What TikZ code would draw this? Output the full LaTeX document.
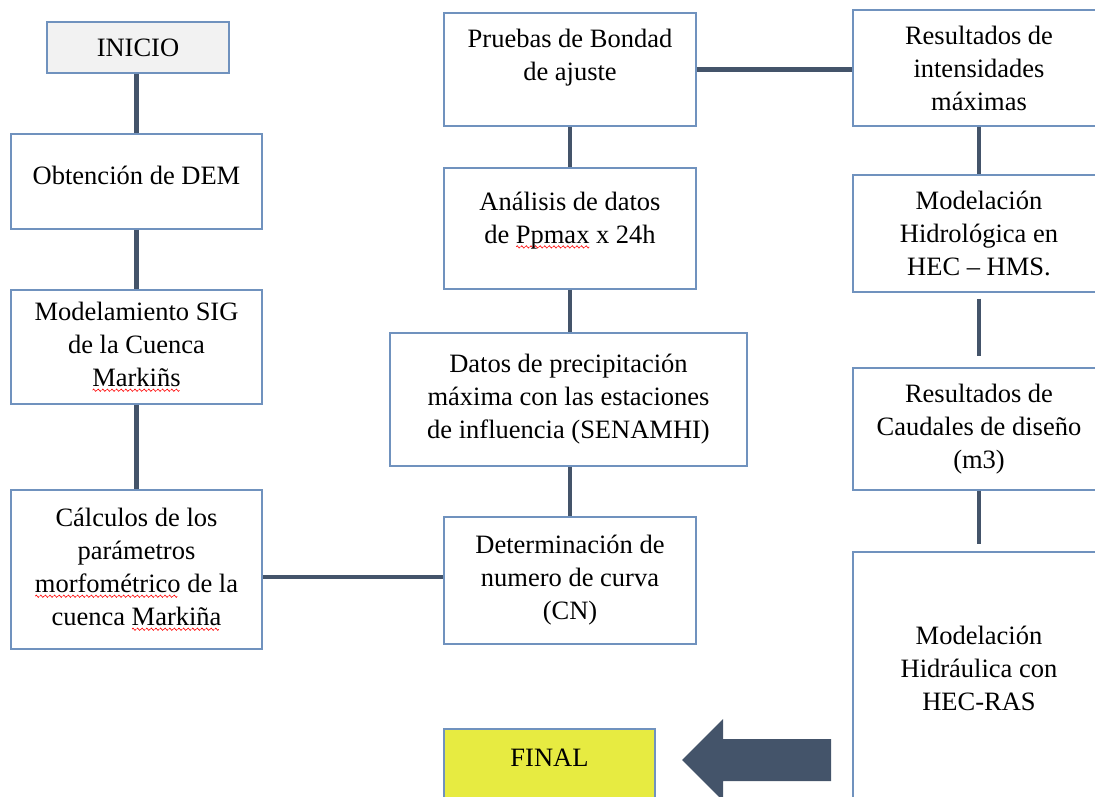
\documentclass[tikz,border=0pt]{standalone}
\usepackage{fontspec}
\setmainfont{Liberation Serif}
\usepackage{xcolor}
\usepackage{tikz}
\usetikzlibrary{positioning,calc}

\definecolor{boxline}{RGB}{112,146,190}
\definecolor{slate}{RGB}{68,84,106}
\definecolor{startgray}{RGB}{242,242,242}
\definecolor{endyellow}{RGB}{231,235,65}

% red wavy spell-check underline
\newsavebox\spellbox
\newcommand\spellwave{\tikz\draw[red, line width=0.6pt] (0pt,0pt) sin (1pt,1.2pt) cos (2pt,0pt) sin (3pt,-1.2pt) cos (4pt,0pt);}
\newcommand\spellmark[1]{\sbox\spellbox{#1}\rlap{\raisebox{-5pt}{\leaders\hbox{\spellwave}\hskip\wd\spellbox}}\usebox\spellbox}

\begin{document}
\begin{tikzpicture}[x=1pt, y=-1pt,
    box/.style={draw=boxline, line width=1.2pt, fill=#1, inner sep=0pt, align=center,
                font=\fontsize{26.5}{33}\selectfont},
    box/.default=white,
    txt/.style={inner sep=0pt, align=center, font=\fontsize{26.5}{33}\selectfont},
    conn/.style={draw=slate, line width=4.5pt},
]
\useasboundingbox (0,0) rectangle (1095,797);

% --- Left column ---
\node[box=startgray, minimum width=182pt, minimum height=51pt] (inicio) at (138,47.5) {INICIO};
\node[box, minimum width=251pt, minimum height=95pt] (dem) at (136.5,181.5) {};
\node[txt, yshift=6pt] (demT) at (dem) {Obtención de DEM};
\node[box, minimum width=251pt, minimum height=114pt] (sig) at (136.5,347) {Modelamiento SIG\\de la Cuenca\\\spellmark{Markiñs}};
\node[box, minimum width=251pt, minimum height=159pt] (calculos) at (136.5,569.5)
    {Cálculos de los\\parámetros\\\spellmark{morfométrico} de la\\cuenca \spellmark{Markiña}};

% --- Middle column ---
\node[box, minimum width=252pt, minimum height=113pt] (pruebas) at (570,69.5) {};
\node[txt, yshift=12pt] (pruebasT) at (pruebas) {Pruebas de Bondad\\de ajuste};
\node[box, minimum width=252pt, minimum height=121pt] (analisis) at (570,228.5) {};
\node[txt, yshift=8pt] (analisisT) at (analisis) {Análisis de datos\\de \spellmark{Ppmax} x 24h};
\node[box, minimum width=357pt, minimum height=133pt] (datos) at (568.5,399.5)
    {Datos de precipitación\\máxima con las estaciones\\de influencia (SENAMHI)};
\node[box, minimum width=252pt, minimum height=127pt] (cn) at (570,580.5)
    {Determinación de\\numero de curva\\(CN)};
\node[box=endyellow, minimum width=211pt, minimum height=81pt] (final) at (549.5,769.5) {};
\node[txt, yshift=12pt] (finalT) at (final) {FINAL};

% --- Right column ---
\node[box, minimum width=252pt, minimum height=116pt] (intens) at (979,68)
    {Resultados de\\intensidades\\máximas};
\node[box, minimum width=252pt, minimum height=117pt] (hms) at (979,233.5)
    {Modelación\\Hidrológica en\\HEC – HMS.};
\node[box, minimum width=252pt, minimum height=122pt] (caudales) at (979,429)
    {Resultados de\\Caudales de diseño\\(m3)};
\node[box, minimum width=252pt, minimum height=288pt] (hecras) at (979,696) {};
\node[txt, yshift=28pt] (hecrasT) at (hecras) {Modelación\\Hidráulica con\\HEC-RAS};

% --- Connectors ---
\draw[conn] (dem.north |- inicio.south) -- (dem.north);
\draw[conn] (dem.south) -- (sig.north);
\draw[conn] (sig.south) -- (calculos.north);
\draw[conn] ([yshift=-7.5pt]calculos.east) -- ([yshift=-7.5pt]calculos.east -| cn.west);
\draw[conn] (pruebas.east) -- (pruebas.east -| intens.west);
\draw[conn] (pruebas.south) -- (analisis.north);
\draw[conn] (analisis.south) -- (analisis.south |- datos.north);
\draw[conn] (cn.north |- datos.south) -- (cn.north);
\draw[conn] (intens.south) -- (hms.north);
\draw[conn, shorten <=6pt, shorten >=11pt] (hms.south) -- (caudales.north);
\draw[conn, shorten >=7pt] (caudales.south) -- (hecras.north);

% Block arrow towards FINAL
\fill[slate] (682,760) -- (723,719) -- (723,739) -- (831,739) -- (831,781)
    -- (723,781) -- (723,801) -- cycle;

\end{tikzpicture}
\end{document}
